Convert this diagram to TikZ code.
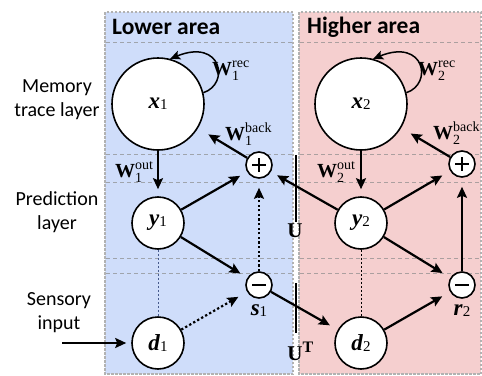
\documentclass[tikz,border=0pt]{standalone}
\usepackage{fontspec}
\setmainfont{Liberation Serif}
\newfontfamily\sansf{Carlito}
\usetikzlibrary{arrows.meta}
\definecolor{bluebg}{RGB}{207,221,250}
\definecolor{pinkbg}{RGB}{245,207,207}
\definecolor{panelborder}{RGB}{178,178,178}
\definecolor{dotblue}{RGB}{70,90,140}
\newcommand\varlab[2]{\textbf{\textit{#1}}\raisebox{-1pt}{\fontsize{15}{15}\selectfont #2}}
\newcommand\Wlab[2]{$\textbf{W}^{\hbox{\fontsize{14}{14}\selectfont #2}}_{\hbox{\fontsize{14}{14}\selectfont #1}}$}
\begin{document}
\begin{tikzpicture}[x=1pt,y=-1pt,
  bignode/.style={circle, draw, fill=white, line width=1.6pt, minimum size=92pt, inner sep=0pt, font=\fontsize{23}{23}\selectfont},
  midnode/.style={circle, draw, fill=white, line width=1.6pt, minimum size=52pt, inner sep=0pt, font=\fontsize{23}{23}\selectfont},
  opnode/.style={circle, draw, fill=white, line width=1.6pt, minimum size=26pt, inner sep=0pt},
  plusnode/.style={opnode, path picture={\draw[line width=1.3pt] (path picture bounding box.center) ++(-7,0) -- ++(14,0) (path picture bounding box.center) ++(0,-7) -- ++(0,14);}},
  minusnode/.style={opnode, path picture={\draw[line width=1.3pt] (path picture bounding box.center) ++(-7,0) -- ++(14,0);}},
  arr/.style={line width=2.2pt, -{Stealth[length=11pt,width=10pt,inset=2pt]}, shorten >=8pt},
  dotarr/.style={arr, dash pattern=on 2.3pt off 2.3pt},
  looparr/.style={line width=1.5pt, -{Stealth[length=10pt,width=9pt,inset=2pt]}},
  thindot/.style={line width=1pt, dash pattern=on 2pt off 2pt},
  hdash/.style={line width=0.8pt, draw=black!45, opacity=0.7, dash pattern=on 4pt off 3pt},
  panel/.style={draw=panelborder, line width=1.4pt, dash pattern=on 2.5pt off 1.5pt},
  sidetext/.style={font=\sansf\fontsize{20}{24}\selectfont, align=center},
  title/.style={font=\sansf\bfseries\fontsize{23.5}{26}\selectfont, anchor=west, inner sep=0pt},
  wlab/.style={font=\fontsize{20}{24}\selectfont, anchor=base west, inner sep=0pt},
  lab/.style={font=\fontsize{23}{23}\selectfont, inner sep=0pt}
]
\useasboundingbox (0,0) rectangle (482,375);
% panels
\fill[bluebg] (105,12) rectangle (293,374);
\fill[pinkbg] (299,12) rectangle (481,374);
\draw[panel] (105,12) rectangle (293,374);
\draw[panel] (299,12) rectangle (481,374);
% horizontal dashed lines
\foreach \yy in {42,154,182,258,273}{
  \draw[hdash] (106,\yy) -- (292,\yy);
  \draw[hdash] (300,\yy) -- (480,\yy);
}
% titles
\node[title] (tl) at (112,27) {Lower area};
\node[title] (th) at (307,27) {Higher area};
% side texts
\node[sidetext] (mem) at (57,100) {Memory\\trace layer};
\node[sidetext] (pred) at (57,212) {Prediction\\layer};
\node[sidetext] (sens) at (59,313) {Sensory\\input};
% U lines
\draw[line width=1.2pt] (296,155) -- (296,222);
\draw[line width=1.2pt] (296,283) -- (296,333);
\node[font=\bfseries\fontsize{21}{24}\selectfont, anchor=base, inner sep=0pt] (U) at (295,237) {U};
\node[font=\bfseries\fontsize{21}{24}\selectfont, anchor=base, inner sep=0pt] (UT) at (295,360) {U\rlap{\raisebox{8pt}{\fontsize{16}{16}\selectfont T}}};
% nodes
\node[bignode] (x1) at (158,104) {\varlab{x}{1}};
\node[bignode] (x2) at (361,104) {\varlab{x}{2}};
\node[midnode] (y1) at (158,223) {\varlab{y}{1}};
\node[midnode] (y2) at (361,223) {\varlab{y}{2}};
\node[midnode] (d1) at (158,343) {\varlab{d}{1}};
\node[midnode] (d2) at (361,343) {\varlab{d}{2}};
\node[plusnode] (p1) at (259,165) {};
\node[minusnode] (m1) at (259,285) {};
\node[plusnode] (p2) at (462,164) {};
\node[minusnode] (m2) at (462,285) {};
\node[lab] (s1) at (259,311) {\varlab{s}{1}};
\node[lab] (r2) at (462,311) {\varlab{r}{2}};
% W labels
\node[wlab] (w1rec) at (212,75) {\Wlab{1}{rec}};
\node[wlab] (w2rec) at (418,75) {\Wlab{2}{rec}};
\node[wlab] (w1back) at (225,140) {\Wlab{1}{back}};
\node[wlab] (w2back) at (433,139) {\Wlab{2}{back}};
\node[wlab] (w1out) at (115,177) {\Wlab{1}{out}};
\node[wlab] (w2out) at (317,177) {\Wlab{2}{out}};
% self loops
\draw[looparr] (x1.14) .. controls (230,84) and (222,38) .. (x1.75);
\draw[looparr] (x2.14) .. controls (433,84) and (425,38) .. (x2.75);
% thin dotted
\draw[thindot, dotblue] (y1) -- (d1);
\draw[thindot, black] (y2) -- (d2);
% arrows
\draw[arr, shorten >=7pt] (x1) -- (y1);
\draw[arr, shorten >=7pt] (x2) -- (y2);
\draw[arr, shorten >=12pt] (p1) -- (x1);
\draw[arr, shorten >=11pt] (p2) -- (x2);
\draw[arr] (y1) -- (p1);
\draw[arr] (y1) -- (m1);
\draw[arr, shorten >=7pt] (y2) -- (p1);
\draw[arr, shorten >=9pt] (y2) -- (p2);
\draw[arr, shorten >=9pt] (y2) -- (m2);
\draw[arr, shorten >=9pt] (m1) -- (d2);
\draw[arr, shorten >=9pt] (d2) -- (m2);
\draw[arr, shorten >=9pt] (m2) -- (p2);
\draw[dotarr, shorten >=9pt] (m1) -- (p1);
\draw[dotarr, shorten >=10pt] (d1) -- (m1);
\coordinate (sin) at (62,343);
\draw[arr, shorten >=5pt] (sin) -- (d1);
\end{tikzpicture}
\end{document}
